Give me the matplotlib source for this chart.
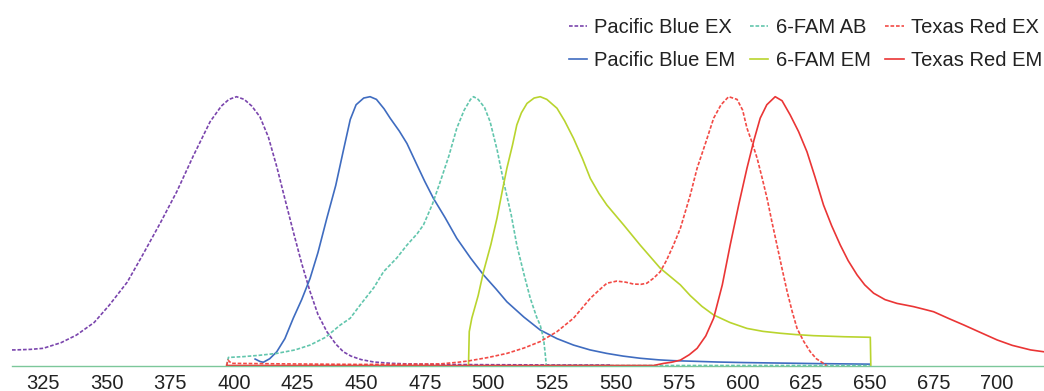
import numpy as np
import matplotlib
matplotlib.use("Agg")
import matplotlib.pyplot as plt

plt.rcParams['font.family'] = ['Liberation Sans', 'DejaVu Sans']

# Pacific Blue excitation (dashed purple)
pb_ex_wl = [312.7, 313.9, 320, 325, 332, 338, 345, 351, 358, 364, 371, 377.5, 384, 390.6, 395, 398,
            401, 404, 407, 410.2, 413.5, 416.8, 420, 423.3, 426.6, 429.9, 433, 436.5, 440, 443, 446,
            450, 455, 462, 468, 480, 500, 530, 548]
pb_ex_val = [0.058, 0.058, 0.06, 0.064, 0.085, 0.113, 0.16, 0.225, 0.31, 0.41, 0.53, 0.647, 0.78, 0.907,
             0.965, 0.99, 1.0, 0.99, 0.965, 0.925, 0.85, 0.74, 0.62, 0.498, 0.38, 0.275, 0.19, 0.126,
             0.08, 0.051, 0.035, 0.022, 0.013, 0.008, 0.006, 0.004, 0.003, 0.002, 0.002]

# Pacific Blue emission (solid blue)
pb_em_wl = [408.3, 410.2, 411.5, 414, 416.8, 420, 423.3, 426.6, 429.9, 433, 436.5, 440, 443, 445.7,
            448, 451, 453.5, 456, 459, 461.4, 465, 468, 472, 475, 478.4, 483, 487.6, 493, 498.1, 503,
            507.3, 514, 520.4, 527, 533.5, 540, 546.6, 553, 559.7, 567, 572.8, 580, 590, 600, 615,
            630, 650]
pb_em_val = [0.024, 0.015, 0.012, 0.025, 0.051, 0.1, 0.176, 0.245, 0.324, 0.42, 0.548, 0.67, 0.8, 0.915,
             0.97, 0.995, 1.0, 0.99, 0.955, 0.92, 0.872, 0.826, 0.745, 0.685, 0.622, 0.55, 0.473, 0.4,
             0.337, 0.285, 0.237, 0.18, 0.132, 0.1, 0.076, 0.058, 0.045, 0.035, 0.027, 0.021, 0.018,
             0.016, 0.013, 0.011, 0.009, 0.007, 0.005]

# 6-FAM absorbance (dashed teal)
fam_ab_wl = [397.1, 397.8, 403.7, 410, 416.8, 424, 429.9, 436, 441.7, 445.7, 449.6, 455, 458.8, 464,
             468, 472, 474.5, 478, 481.1, 484.5, 487.6, 490.5, 493, 494.2, 496, 498.5, 500.7, 503.5,
             506, 509, 511.2, 514, 516.5, 519, 520.4, 521.7, 522.3, 522.8, 560, 600, 650]
fam_ab_val = [0.0, 0.03, 0.033, 0.038, 0.045, 0.058, 0.076, 0.105, 0.15, 0.176, 0.225, 0.29, 0.349, 0.4,
              0.448, 0.49, 0.523, 0.6, 0.684, 0.78, 0.883, 0.95, 0.99, 1.0, 0.99, 0.96, 0.907, 0.8,
              0.684, 0.56, 0.448, 0.34, 0.25, 0.18, 0.15, 0.101, 0.05, 0.0, 0.0, 0.0, 0.0]

# 6-FAM emission (solid yellow-green)
fam_em_wl = [492.2, 492.5, 493.5, 496, 498.1, 501, 503.4, 505.5, 507.3, 509.5, 511.2, 513, 515.2, 518,
             520.4, 523, 527, 530, 533.5, 537, 540.1, 543.5, 546.6, 553.2, 559.7, 567.6, 575.5, 579.4,
             584, 588.6, 595, 601.7, 608, 614.8, 621, 627.9, 640, 650.2, 650.4]
fam_em_val = [0.0, 0.126, 0.176, 0.26, 0.349, 0.45, 0.548, 0.65, 0.734, 0.82, 0.895, 0.94, 0.975, 0.995,
              1.0, 0.99, 0.957, 0.91, 0.845, 0.77, 0.696, 0.64, 0.597, 0.523, 0.448, 0.362, 0.3, 0.26,
              0.22, 0.188, 0.16, 0.138, 0.127, 0.12, 0.115, 0.111, 0.107, 0.105, 0.0]

# Texas Red excitation (dashed red)
tr_ex_wl = [397.1, 397.6, 399, 420, 450, 470, 481.1, 488, 492.2, 500, 507.3, 514, 520.4, 527, 533.5,
            540.1, 543.5, 546.6, 550.5, 554, 557.1, 560, 562.3, 565, 567.6, 570, 572.8, 575.5, 579.4,
            582.1, 585.5, 588.6, 591.5, 594.5, 597.8, 600, 601.7, 603.7, 605.7, 607.6, 609.6, 611.5,
            613.5, 615.5, 617.5, 619.5, 621.4, 624, 626.6, 629, 631.8, 633]
tr_ex_val = [0.0, 0.02, 0.008, 0.006, 0.004, 0.005, 0.006, 0.012, 0.017, 0.03, 0.045, 0.065, 0.089,
             0.126, 0.176, 0.25, 0.28, 0.306, 0.314, 0.31, 0.303, 0.302, 0.306, 0.325, 0.349, 0.39,
             0.448, 0.51, 0.634, 0.734, 0.83, 0.92, 0.97, 1.0, 0.99, 0.95, 0.883, 0.83, 0.771, 0.7,
             0.622, 0.535, 0.448, 0.36, 0.275, 0.2, 0.138, 0.09, 0.051, 0.025, 0.008, 0.0]

# Texas Red emission (solid red)
tr_em_wl = [397.1, 565, 569, 572, 575.5, 579, 582.1, 585.5, 588.6, 592, 595.1, 598.5, 601.7, 604.5,
            606.9, 609.5, 612.8, 615.5, 618.7, 622, 625.3, 628.5, 631.8, 635, 638.4, 641.5, 645, 648,
            651.5, 656, 660.7, 664, 667.2, 671, 675.1, 681, 686.9, 693, 700.1, 706, 713.2, 718.5]
tr_em_val = [0.0, 0.0, 0.008, 0.012, 0.02, 0.04, 0.064, 0.11, 0.176, 0.3, 0.448, 0.6, 0.734, 0.84,
             0.92, 0.97, 1.0, 0.985, 0.932, 0.87, 0.795, 0.7, 0.597, 0.52, 0.448, 0.39, 0.337, 0.3,
             0.269, 0.245, 0.231, 0.225, 0.219, 0.21, 0.2, 0.175, 0.151, 0.125, 0.095, 0.075, 0.058,
             0.051]

tick_vals = [325, 350, 375, 400, 425, 450, 475, 500, 525, 550, 575, 600, 625, 650, 675, 700]

fig = plt.figure(figsize=(10.44, 3.91), dpi=100)
ax = fig.add_axes([0.0115, 0.0652, 0.9885, 0.6875])

dash = (2.2, 1.1)
lw = 1.2
ax.plot(pb_ex_wl, pb_ex_val, color='#7a45ad', lw=lw, dashes=dash, label='Pacific Blue EX', clip_on=False)
ax.plot(pb_em_wl, pb_em_val, color='#3f6cc0', lw=lw, label='Pacific Blue EM', clip_on=False)
ax.plot(fam_ab_wl, fam_ab_val, color='#62c6ad', lw=lw, dashes=dash, label='6-FAM AB', clip_on=False)
ax.plot(fam_em_wl, fam_em_val, color='#b9d42e', lw=lw, label='6-FAM EM', clip_on=False)
ax.plot(tr_ex_wl, tr_ex_val, color='#f24a45', lw=lw, dashes=dash, label='Texas Red EX', clip_on=False)
ax.plot(tr_em_wl, tr_em_val, color='#ea3535', lw=lw, label='Texas Red EM', clip_on=False)

ax.set_xlim(312.7, 718.5)
ax.set_ylim(0, 1.0)
ax.set_xticks(tick_vals)
ax.set_xticklabels([str(t) for t in tick_vals])
ax.set_yticks([])
for s in ['top', 'right', 'left']:
    ax.spines[s].set_visible(False)
ax.spines['bottom'].set_color('#7cc79a')
ax.spines['bottom'].set_linewidth(1.0)
ax.tick_params(axis='x', length=0, pad=6, labelsize=14.5, labelcolor='#222222')

fig.legend(loc='upper right', bbox_to_anchor=(0.998, 0.954), ncol=3, frameon=False,
           fontsize=14.5, handlelength=0.9, handletextpad=0.35, columnspacing=0.75,
           labelspacing=0.68, borderpad=0, borderaxespad=0, labelcolor='#222222')

fig.savefig('out.png', dpi=100)
